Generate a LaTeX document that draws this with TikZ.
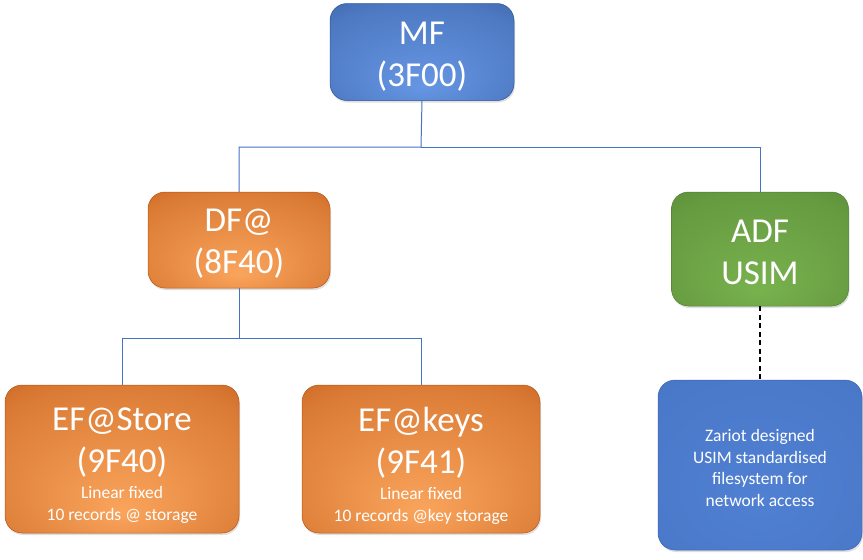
\documentclass[tikz,border=0pt]{standalone}
\usepackage{fontspec}
\setmainfont{Carlito}
\usetikzlibrary{shadows}

\definecolor{mfLight}{RGB}{102,150,228}
\definecolor{mfDark}{RGB}{47,85,151}
\definecolor{dfLight}{RGB}{250,164,92}
\definecolor{dfDark}{RGB}{188,84,16}
\definecolor{adfLight}{RGB}{120,178,78}
\definecolor{adfDark}{RGB}{80,126,48}
\definecolor{noteLight}{RGB}{80,128,210}
\definecolor{noteDark}{RGB}{56,98,176}
\definecolor{linkBlue}{RGB}{68,114,196}

\pgfdeclareradialshading{mfShade}{\pgfpoint{0bp}{-18bp}}{color(0bp)=(mfLight); color(32bp)=(mfLight!55!mfDark); color(50bp)=(mfDark)}
\pgfdeclareradialshading{dfShade}{\pgfpoint{0bp}{-18bp}}{color(0bp)=(dfLight); color(32bp)=(dfLight!50!dfDark); color(50bp)=(dfDark)}
\pgfdeclareradialshading{adfShade}{\pgfpoint{0bp}{-18bp}}{color(0bp)=(adfLight); color(32bp)=(adfLight!55!adfDark); color(50bp)=(adfDark)}
\pgfdeclareradialshading{noteShade}{\pgfpoint{0bp}{-10bp}}{color(0bp)=(noteLight); color(40bp)=(noteLight!70!noteDark); color(50bp)=(noteDark)}

% Extra room above the first line, to push a node's text down
\newcommand\dropText[2]{\raisebox{0pt}[\dimexpr\height+#1\relax]{#2}}

\begin{document}
\begin{tikzpicture}[x=1pt,y=-1pt,
    box/.style={rounded corners=17pt, inner sep=0pt, text=white, align=center,
      font=\fontsize{35}{42}\selectfont,
      drop shadow={opacity=0.25, shadow xshift=1pt, shadow yshift=-2pt}},
    mfbox/.style={box, shade, shading=mfShade, draw=mfDark, line width=0.5pt},
    dfbox/.style={box, shade, shading=dfShade, draw=dfDark, line width=0.5pt},
    adfbox/.style={box, shade, shading=adfShade, draw=adfDark, line width=0.5pt},
    notebox/.style={box, shade, shading=noteShade, draw=noteDark, line width=0.5pt,
      font=\fontsize{17.5}{21.5}\selectfont},
    link/.style={draw=linkBlue, line width=1pt},
    ghost/.style={draw=black, line width=2pt, dash pattern=on 5pt off 3.5pt}]
    % Fix the page size
    \useasboundingbox (0,0) rectangle (863,560);

    % Size of the small lines
    \def\smallText{\fontsize{17.5}{22}\selectfont}

    % Draw master file
    \node[mfbox, minimum width=184pt, minimum height=97pt] (mf) at (422,52)
    {\dropText{9pt}{MF}\\(3F00)};

    % Draw dedicated files
    \node[dfbox, minimum width=182pt, minimum height=96pt] (df) at (239,240)
    {\dropText{8pt}{DF@}\\(8F40)};
    \node[adfbox, minimum width=177pt, minimum height=114pt] (adf) at (760,249)
    {\dropText{6pt}{ADF}\\USIM};

    % Draw elementary files
    \node[dfbox, minimum width=234pt, minimum height=148pt] (efstore) at (122,459)
    {\dropText{14pt}{EF@Store}\\(9F40)\\[-16pt]\smallText Linear fixed\\[-20pt]\smallText 10 records @ storage};
    \node[dfbox, minimum width=238pt, minimum height=148pt] (efkeys) at (421,459)
    {\dropText{14pt}{EF@keys}\\(9F41)\\[-16pt]\smallText Linear fixed\\[-20pt]\smallText 10 records @key storage};

    % Draw note about the USIM
    \node[notebox, minimum width=204pt, minimum height=170pt] (usimnote) at (760,465)
    {\dropText{6pt}{Zariot designed}\\USIM standardised\\filesystem for\\network access};

    % Tree links below MF
    \coordinate (mfsplit) at (421,147);
    \draw[link] (mf.south) -- (mfsplit) -| (df.north);
    \draw[link] (mfsplit) -| (adf.north);

    % Tree links below DF@
    \coordinate (dfsplit) at (239,338);
    \draw[link] (df.south) -- (dfsplit) -| (efstore.north);
    \draw[link] (dfsplit) -| (efkeys.north);

    % Dashed link to the note
    \draw[ghost] (adf.south) -- (usimnote.north);
  \end{tikzpicture}
\end{document}
